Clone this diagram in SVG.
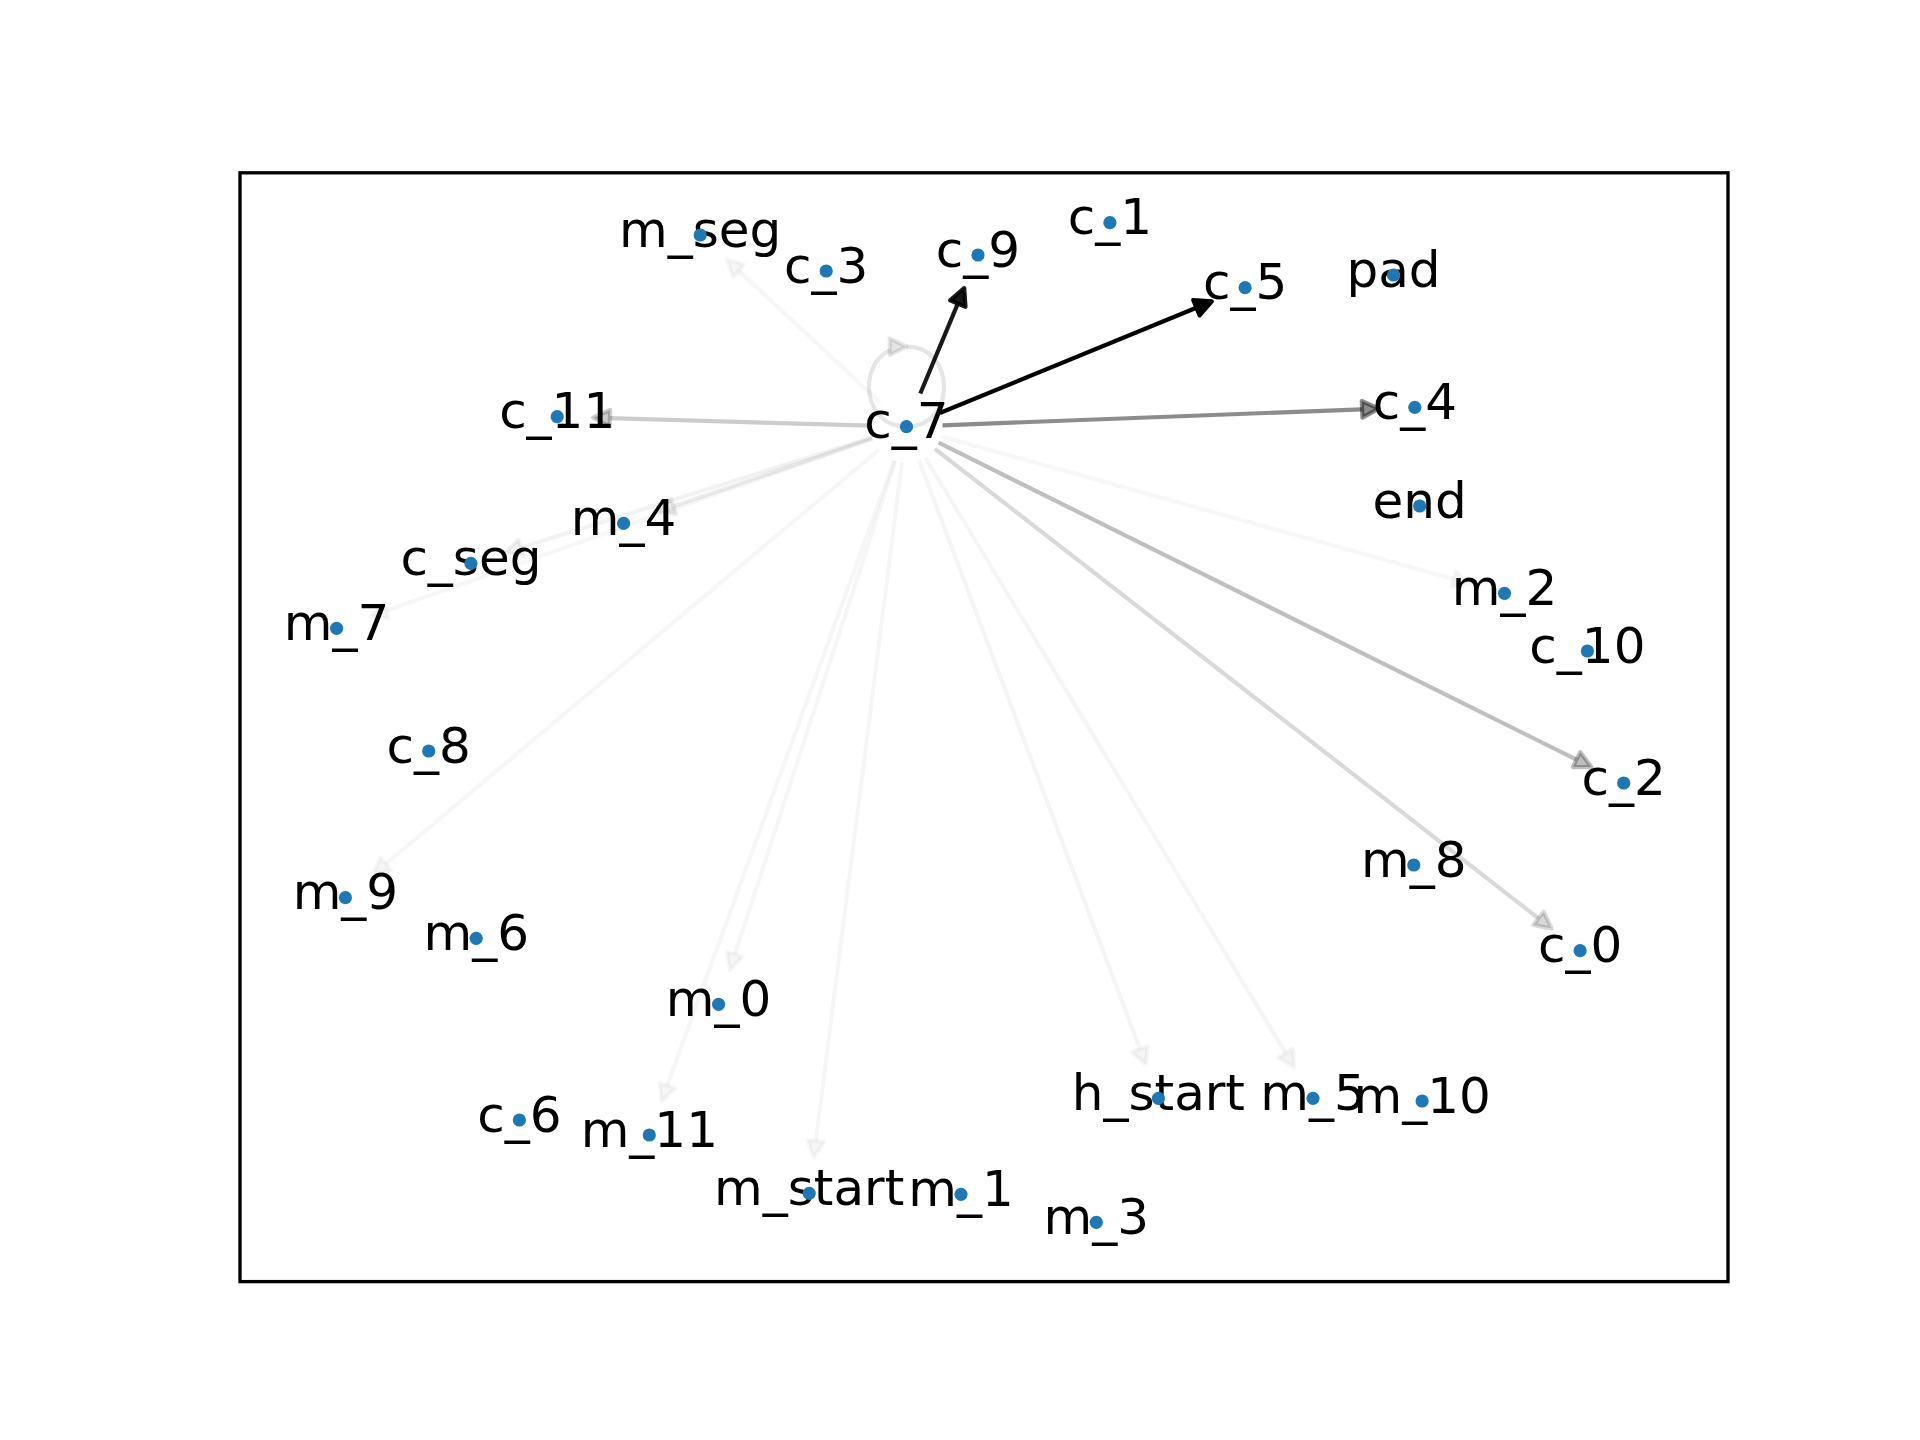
<svg xmlns="http://www.w3.org/2000/svg" width="1920" height="1440" viewBox="0 0 1920 1440">
<defs>
<style>
.edge line, .edge path { stroke: #000; stroke-width: 4.17; fill: none; stroke-linecap: butt; }
.edge polygon { stroke: #000; stroke-width: 4.17; fill: #000; stroke-linejoin: round; }
.node text { font-family: "DejaVu Sans", "Liberation Sans", sans-serif; font-size: 50px; fill: #000; text-anchor: middle; }
.node circle { fill: #1f77b4; }
</style>
</defs>
<rect x="0" y="0" width="1920" height="1440" fill="#ffffff"/>
<g id="edges">
  <g class="edge" id="e-c7-c9" stroke-opacity="0.9" fill-opacity="0.9"><line x1="920.3" y1="393.5" x2="957.8" y2="303.6"/><polygon points="964.2,288.2 965.5,306.8 950.1,300.4"/></g>
  <g class="edge" id="e-c7-c5" stroke-opacity="1" fill-opacity="1"><line x1="939.8" y1="413.0" x2="1196.4" y2="307.7"/><polygon points="1211.8,301.4 1199.6,315.4 1193.2,300.0"/></g>
  <g class="edge" id="e-c7-c4" stroke-opacity="0.45" fill-opacity="0.45"><line x1="942.5" y1="425.3" x2="1362.1" y2="409.3"/><polygon points="1378.8,408.7 1362.4,417.6 1361.8,401.0"/></g>
  <g class="edge" id="e-c7-c11" stroke-opacity="0.2" fill-opacity="0.2"><line x1="870.5" y1="425.7" x2="609.9" y2="418.2"/><polygon points="593.2,417.7 610.1,409.9 609.7,426.5"/></g>
  <g class="edge" id="e-c7-c7" stroke-opacity="0.1" fill-opacity="0.1"><path d="M906.5,346.7 C956.5,346.7 956.5,426.7 906.5,426.7 C862.8,426.7 857.3,365.6 890.0,350.2"/><polygon points="906.5,346.7 889.8,338.4 889.8,355.0"/></g>
  <g class="edge" id="e-c7-mseg" stroke-opacity="0.035" fill-opacity="0.035"><line x1="880.1" y1="402.2" x2="738.8" y2="270.9"/><polygon points="726.6,259.5 744.5,264.8 733.1,277.0"/></g>
  <g class="edge" id="e-c7-m4" stroke-opacity="0.07" fill-opacity="0.07"><line x1="872.4" y1="438.3" x2="673.5" y2="506.3"/><polygon points="657.7,511.7 670.8,498.4 676.2,514.2"/></g>
  <g class="edge" id="e-c7-cseg" stroke-opacity="0.05" fill-opacity="0.05"><line x1="872.1" y1="437.5" x2="521.2" y2="547.5"/><polygon points="505.3,552.5 518.7,539.6 523.7,555.5"/></g>
  <g class="edge" id="e-c7-m7" stroke-opacity="0.035" fill-opacity="0.035"><line x1="872.6" y1="438.7" x2="386.2" y2="610.7"/><polygon points="370.5,616.3 383.4,602.9 389.0,618.6"/></g>
  <g class="edge" id="e-c7-m9" stroke-opacity="0.035" fill-opacity="0.035"><line x1="878.9" y1="449.8" x2="385.8" y2="863.9"/><polygon points="373.0,874.6 380.4,857.5 391.2,870.3"/></g>
  <g class="edge" id="e-c7-m0" stroke-opacity="0.035" fill-opacity="0.035"><line x1="895.4" y1="460.9" x2="734.9" y2="954.2"/><polygon points="729.7,970.1 727.0,951.6 742.8,956.8"/></g>
  <g class="edge" id="e-c7-m11" stroke-opacity="0.035" fill-opacity="0.035"><line x1="894.2" y1="460.5" x2="667.3" y2="1085.5"/><polygon points="661.6,1101.2 659.5,1082.7 675.1,1088.3"/></g>
  <g class="edge" id="e-c7-mstart" stroke-opacity="0.035" fill-opacity="0.035"><line x1="902.0" y1="462.4" x2="815.8" y2="1141.0"/><polygon points="813.7,1157.6 807.5,1140.0 824.1,1142.1"/></g>
  <g class="edge" id="e-c7-hstart" stroke-opacity="0.04" fill-opacity="0.04"><line x1="919.1" y1="460.4" x2="1139.9" y2="1049.0"/><polygon points="1145.8,1064.6 1132.1,1051.9 1147.7,1046.1"/></g>
  <g class="edge" id="e-c7-m5" stroke-opacity="0.04" fill-opacity="0.04"><line x1="925.1" y1="457.5" x2="1285.8" y2="1053.2"/><polygon points="1294.4,1067.5 1278.6,1057.5 1292.9,1048.9"/></g>
  <g class="edge" id="e-c7-c0" stroke-opacity="0.15" fill-opacity="0.15"><line x1="934.9" y1="448.8" x2="1538.5" y2="918.3"/><polygon points="1551.7,928.6 1533.4,924.9 1543.6,911.7"/></g>
  <g class="edge" id="e-c7-c2" stroke-opacity="0.25" fill-opacity="0.25"><line x1="938.7" y1="442.7" x2="1576.5" y2="759.6"/><polygon points="1591.5,767.0 1572.8,767.1 1580.2,752.1"/></g>
  <g class="edge" id="e-c7-m2" stroke-opacity="0.03" fill-opacity="0.03"><line x1="941.2" y1="436.4" x2="1453.7" y2="579.1"/><polygon points="1469.8,583.6 1451.5,587.1 1455.9,571.1"/></g>
</g>
<g id="nodes">
  <g class="node" id="n-c_7"><text x="906.5" y="438.2">c_7</text><circle cx="906.5" cy="426.7" r="6.6"/></g>
  <g class="node" id="n-m_seg"><text x="700.2" y="246.5">m_seg</text><circle cx="700.2" cy="235" r="6.6"/></g>
  <g class="node" id="n-c_3"><text x="826.2" y="282.5">c_3</text><circle cx="826.2" cy="271" r="6.6"/></g>
  <g class="node" id="n-c_9"><text x="978" y="266.5">c_9</text><circle cx="978" cy="255" r="6.6"/></g>
  <g class="node" id="n-c_1"><text x="1109.9" y="234.2">c_1</text><circle cx="1109.9" cy="222.7" r="6.6"/></g>
  <g class="node" id="n-c_5"><text x="1245.1" y="299.2">c_5</text><circle cx="1245.1" cy="287.7" r="6.6"/></g>
  <g class="node" id="n-pad"><text x="1393.5" y="286.5">pad</text><circle cx="1393.5" cy="275" r="6.6"/></g>
  <g class="node" id="n-c_11"><text x="557.2" y="428.2">c_11</text><circle cx="557.2" cy="416.7" r="6.6"/></g>
  <g class="node" id="n-c_4"><text x="1414.8" y="418.8">c_4</text><circle cx="1414.8" cy="407.3" r="6.6"/></g>
  <g class="node" id="n-end"><text x="1419.7" y="517.5">end</text><circle cx="1419.7" cy="506" r="6.6"/></g>
  <g class="node" id="n-m_4"><text x="623.6" y="534.8">m_4</text><circle cx="623.6" cy="523.3" r="6.6"/></g>
  <g class="node" id="n-c_seg"><text x="470.9" y="574.8">c_seg</text><circle cx="470.9" cy="563.3" r="6.6"/></g>
  <g class="node" id="n-m_2"><text x="1504.5" y="604.8">m_2</text><circle cx="1504.5" cy="593.3" r="6.6"/></g>
  <g class="node" id="n-m_7"><text x="336.6" y="639.8">m_7</text><circle cx="336.6" cy="628.3" r="6.6"/></g>
  <g class="node" id="n-c_10"><text x="1587.4" y="662.5">c_10</text><circle cx="1587.4" cy="651" r="6.6"/></g>
  <g class="node" id="n-c_8"><text x="428.7" y="762.5">c_8</text><circle cx="428.7" cy="751" r="6.6"/></g>
  <g class="node" id="n-c_2"><text x="1623.7" y="794.5">c_2</text><circle cx="1623.7" cy="783" r="6.6"/></g>
  <g class="node" id="n-m_8"><text x="1413.8" y="876.5">m_8</text><circle cx="1413.8" cy="865" r="6.6"/></g>
  <g class="node" id="n-m_9"><text x="345.4" y="909.2">m_9</text><circle cx="345.4" cy="897.7" r="6.6"/></g>
  <g class="node" id="n-m_6"><text x="476.2" y="949.8">m_6</text><circle cx="476.2" cy="938.3" r="6.6"/></g>
  <g class="node" id="n-c_0"><text x="1580.1" y="962.2">c_0</text><circle cx="1580.1" cy="950.7" r="6.6"/></g>
  <g class="node" id="n-m_0"><text x="718.6" y="1015.8">m_0</text><circle cx="718.6" cy="1004.3" r="6.6"/></g>
  <g class="node" id="n-h_start"><text x="1158.4" y="1109.8">h_start</text><circle cx="1158.4" cy="1098.3" r="6.6"/></g>
  <g class="node" id="n-m_5"><text x="1313" y="1109.8">m_5</text><circle cx="1313" cy="1098.3" r="6.6"/></g>
  <g class="node" id="n-m_10"><text x="1422.1" y="1112.5">m_10</text><circle cx="1422.1" cy="1101" r="6.6"/></g>
  <g class="node" id="n-c_6"><text x="519.4" y="1131.5">c_6</text><circle cx="519.4" cy="1120" r="6.6"/></g>
  <g class="node" id="n-m_11"><text x="649.3" y="1146.5">m_11</text><circle cx="649.3" cy="1135" r="6.6"/></g>
  <g class="node" id="n-m_start"><text x="809.2" y="1204.8">m_start</text><circle cx="809.2" cy="1193.3" r="6.6"/></g>
  <g class="node" id="n-m_1"><text x="961" y="1205.8">m_1</text><circle cx="961" cy="1194.3" r="6.6"/></g>
  <g class="node" id="n-m_3"><text x="1096.3" y="1233.8">m_3</text><circle cx="1096.3" cy="1222.3" r="6.6"/></g>
</g>
<rect id="frame" x="240" y="172.8" width="1488" height="1108.8" fill="none" stroke="#000" stroke-width="3.33"/>
</svg>
